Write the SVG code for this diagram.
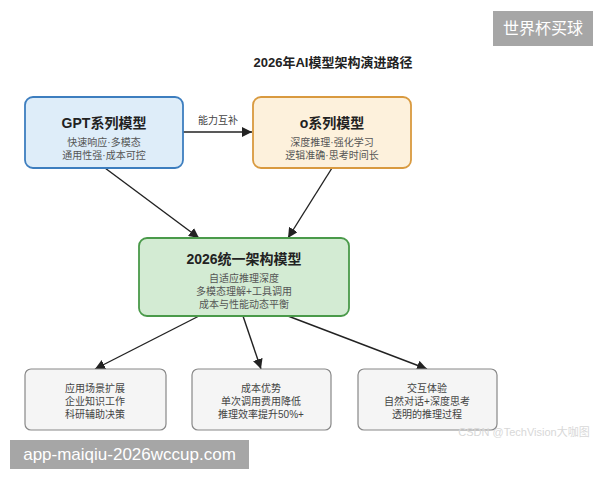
<svg xmlns="http://www.w3.org/2000/svg" width="600" height="480" viewBox="0 0 600 480">
<defs>
<marker id="ah" viewBox="0 0 10 10" refX="10" refY="5" markerWidth="10" markerHeight="10" markerUnits="userSpaceOnUse" orient="auto">
<path d="M0,0 L10,5 L0,10 z" fill="#222"/>
</marker>
</defs>
<style>
text{font-family:"Liberation Sans","Noto Sans CJK SC",sans-serif;text-anchor:middle}
.title{font-size:13px;font-weight:bold;fill:#222}
.nt{font-size:14px;font-weight:bold;fill:#222}
.sub{font-size:10px;fill:#555}
.bt{font-size:10px;fill:#444}
.lbl{font-size:10px;fill:#444}
.edge{stroke:#222;stroke-width:1.4;fill:none;marker-end:url(#ah)}
.box{fill:#f5f5f5;stroke:#888;stroke-width:1.2}
</style>
<rect width="600" height="480" fill="#fff"/>
<text class="title" x="333" y="67">2026年AI模型架构演进路径</text>

<g id="connectors">
<line class="edge" x1="183" y1="132" x2="252" y2="132"/>
<line class="edge" x1="105" y1="168" x2="199" y2="238"/>
<line class="edge" x1="332" y1="168" x2="288" y2="238"/>
<line class="edge" x1="199" y1="316" x2="95" y2="369"/>
<line class="edge" x1="243" y1="316" x2="261" y2="369"/>
<line class="edge" x1="288" y1="316" x2="427" y2="369"/>
<text class="lbl" x="218" y="124">能力互补</text>
</g>

<g id="gpt">
<rect x="25" y="97" width="158" height="71" rx="8" fill="#deedf9" stroke="#3d7ebf" stroke-width="1.8"/>
<text class="nt" x="104" y="128">GPT系列模型</text>
<text class="sub" x="104" y="146">快速响应·多模态</text>
<text class="sub" x="104" y="159">通用性强·成本可控</text>
</g>

<g id="o">
<rect x="253" y="97" width="158" height="71" rx="8" fill="#fdf1dc" stroke="#d99a3f" stroke-width="1.8"/>
<text class="nt" x="332" y="128">o系列模型</text>
<text class="sub" x="332" y="146">深度推理·强化学习</text>
<text class="sub" x="332" y="159">逻辑准确·思考时间长</text>
</g>

<g id="unified">
<rect x="139" y="238" width="210" height="78" rx="8" fill="#d3ebd3" stroke="#4a9a4a" stroke-width="1.8"/>
<text class="nt" x="244" y="264">2026统一架构模型</text>
<text class="sub" x="244" y="282">自适应推理深度</text>
<text class="sub" x="244" y="295">多模态理解+工具调用</text>
<text class="sub" x="244" y="308">成本与性能动态平衡</text>
</g>

<g id="app">
<rect class="box" x="25" y="369" width="141" height="61" rx="6"/>
<text class="bt" x="95" y="392">应用场景扩展</text>
<text class="bt" x="95" y="405">企业知识工作</text>
<text class="bt" x="95" y="418">科研辅助决策</text>
</g>

<g id="cost">
<rect class="box" x="192" y="369" width="139" height="61" rx="6"/>
<text class="bt" x="261" y="392">成本优势</text>
<text class="bt" x="261" y="405">单次调用费用降低</text>
<text class="bt" x="261" y="418">推理效率提升50%+</text>
</g>

<g id="ux">
<rect class="box" x="358" y="369" width="139" height="61" rx="6"/>
<text class="bt" x="427" y="392">交互体验</text>
<text class="bt" x="427" y="405">自然对话+深度思考</text>
<text class="bt" x="427" y="418">透明的推理过程</text>
</g>

<text x="524" y="436" style="font-size:11px;fill:#d8d8d8">CSDN @TechVision大咖图</text>

<rect x="493" y="11" width="100" height="35" fill="#a6a6a6"/>
<text x="543" y="34" style="font-size:16px;fill:#fff">世界杯买球</text>

<rect x="10" y="440" width="239" height="29" fill="#a6a6a6"/>
<text x="129.5" y="460" style="font-size:17px;fill:#fff">app-maiqiu-2026wccup.com</text>
</svg>
